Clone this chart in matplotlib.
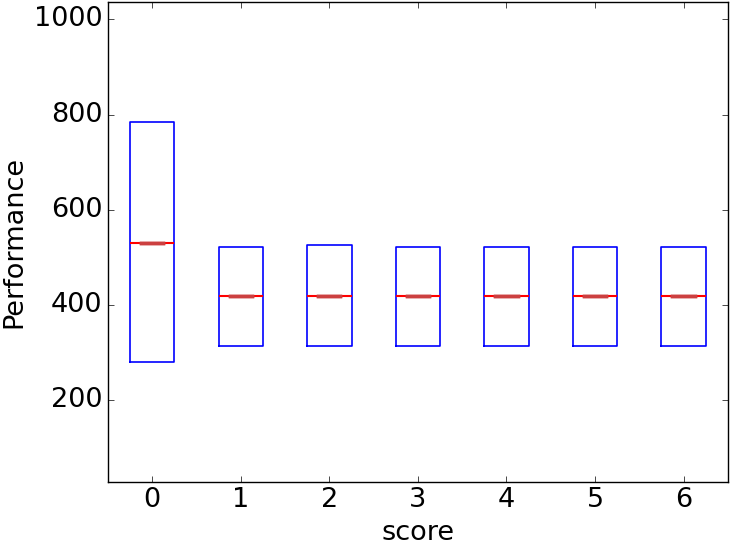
import matplotlib
matplotlib.use("Agg")
import matplotlib.pyplot as plt

plt.style.use("classic")

# ---------- data ----------
scores = [0, 1, 2, 3, 4, 5, 6]
q1 = [280, 313, 313, 313, 313, 313, 313]
med = [531, 418, 418, 418, 418, 418, 418]
q3 = [784, 522, 525, 522, 522, 522, 522]

stats = []
for s, a, m, b in zip(scores, q1, med, q3):
    stats.append({"label": str(s), "q1": a, "med": m, "q3": b,
                  "whislo": m, "whishi": m, "fliers": []})

# ---------- plot ----------
fig = plt.figure(figsize=(7.3, 5.52), dpi=100)
ax = fig.add_axes([0.148, 0.127, 0.849, 0.869])

ax.bxp(stats, positions=scores, widths=0.5,
       boxprops=dict(color="blue", linewidth=1.2),
       medianprops=dict(color="red", linewidth=1.5),
       whiskerprops=dict(linestyle="none"),
       capprops=dict(color="#cc4040", linewidth=2.5, zorder=5))

ax.set_xlim(-0.5, 6.5)
ax.set_ylim(28, 1036)
ax.set_xticks(scores)
ax.set_xticklabels([str(s) for s in scores])
ax.set_yticks([200, 400, 600, 800, 1000])
ax.tick_params(labelsize=19.5)
ax.set_xlabel("score", fontsize=19.5)
ax.set_ylabel("Performance", fontsize=19.5)

fig.savefig("out.png", dpi=100)
